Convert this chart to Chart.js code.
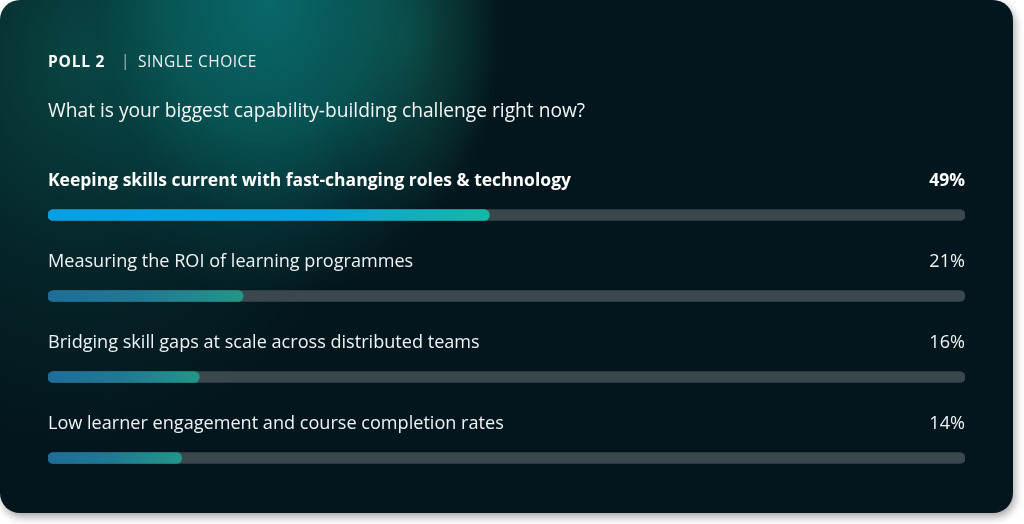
<!DOCTYPE html>
<html>
<head>
<meta charset="utf-8">
<script src="https://cdn.jsdelivr.net/npm/chart.js@4"></script>
<style>
  html, body { margin: 0; padding: 0; background: #ffffff; width: 1024px; height: 524px; overflow: hidden; }
  #card {
    position: absolute; left: 0; top: 0; width: 1013px; height: 513px;
    border-radius: 20px; overflow: hidden;
    box-shadow: 2px 4px 8px rgba(0,0,0,0.35);
    background:
      radial-gradient(ellipse 230px 300px at 270px 0px, rgba(10,112,112,0.9) 0%, rgba(9,98,98,0.75) 45%, rgba(7,70,72,0.4) 75%, rgba(4,24,30,0) 100%),
      radial-gradient(ellipse 90px 180px at 410px 40px, rgba(30,115,85,0.45) 0%, rgba(4,24,30,0) 100%),
      radial-gradient(ellipse 300px 380px at 80px 60px, rgba(10,80,74,0.8) 0%, rgba(6,50,52,0.5) 55%, rgba(4,24,30,0) 100%),
      #03161d;
  }
  #c { position: absolute; left: 0; top: 0; }
</style>
</head>
<body>
<div id="card"><canvas id="c" width="1013" height="513"></canvas></div>
<script>
const pollTag = "POLL 2";
const pollType = "SINGLE CHOICE";
const question = "What is your biggest capability-building challenge right now?";
const categories = [
  "Keeping skills current with fast-changing roles & technology",
  "Measuring the ROI of learning programmes",
  "Bridging skill gaps at scale across distributed teams",
  "Low learner engagement and course completion rates"
];
const values = [49, 21, 16, 14];

// Axis range: the track runs slightly past 0 and 100 (rounded end caps)
const axisMin = -1.2;
const axisMax = 103.1;

const FONT = "'Open Sans', 'Noto Sans', sans-serif";

function barGradient(context) {
  const chart = context.chart;
  const area = chart.chartArea;
  if (!area) return '#0aa0e0';
  const i = context.dataIndex;
  const xs = chart.scales.x;
  const x0 = xs.getPixelForValue(axisMin);
  const x1 = xs.getPixelForValue(values[i]);
  const g = chart.ctx.createLinearGradient(x0, 0, x1, 0);
  if (i === 0) {
    g.addColorStop(0, '#089fe2');
    g.addColorStop(0.6, '#09a3de');
    g.addColorStop(1, '#13b9a7');
  } else {
    g.addColorStop(0, '#1e6d98');
    g.addColorStop(0.5, '#207a93');
    g.addColorStop(1, '#229688');
  }
  return g;
}

const textPlugin = {
  id: 'pollText',
  afterDatasetsDraw(chart) {
    const ctx = chart.ctx;
    const area = chart.chartArea;
    const ys = chart.scales.y;
    ctx.save();
    ctx.textBaseline = 'middle';
    // header
    ctx.fillStyle = '#ffffff';
    ctx.font = `700 15.5px ${FONT}`;
    ctx.letterSpacing = '0.8px';
    ctx.textAlign = 'left';
    ctx.fillText(pollTag, area.left, 63);
    ctx.fillStyle = 'rgba(220,230,232,0.7)';
    ctx.font = `400 15.5px ${FONT}`;
    ctx.letterSpacing = '0px';
    ctx.fillText('|', area.left + 73, 62);
    ctx.fillStyle = '#eef3f4';
    ctx.font = `500 15.5px ${FONT}`;
    ctx.letterSpacing = '0.5px';
    ctx.fillText(pollType, area.left + 90, 63);
    ctx.letterSpacing = '0px';
    // question
    ctx.fillStyle = '#f4f7f8';
    ctx.font = `500 19.2px ${FONT}`;
    ctx.fillText(question, area.left, 112);
    // labels and percents
    categories.forEach((cat, i) => {
      const y = ys.getPixelForValue(i) - 34;
      const bold = i === 0;
      ctx.font = bold ? `700 17.5px ${FONT}` : `500 18.1px ${FONT}`;
      ctx.fillStyle = bold ? '#ffffff' : '#f0f4f5';
      ctx.textAlign = 'left';
      ctx.fillText(cat, area.left, y);
      ctx.textAlign = 'right';
      ctx.fillText(values[i] + '%', area.right, y);
    });
    ctx.restore();
  }
};

new Chart(document.getElementById('c'), {
  type: 'bar',
  data: {
    labels: categories,
    datasets: [
      {
        label: 'Share',
        data: values.map(v => [axisMin, v]),
        backgroundColor: barGradient,
        borderRadius: 6,
        borderSkipped: false,
        barThickness: 11,
        order: 0
      },
      {
        label: 'Track',
        data: values.map(() => [axisMin, axisMax]),
        backgroundColor: '#3a474d',
        borderRadius: 6,
        borderSkipped: false,
        barThickness: 11,
        order: 1
      }
    ]
  },
  options: {
    indexAxis: 'y',
    responsive: false,
    animation: false,
    devicePixelRatio: 1,
    grouped: false,
    layout: { padding: { left: 48, right: 48, top: 174.5, bottom: 14.5 } },
    scales: {
      x: { display: false, min: axisMin, max: axisMax },
      y: { display: false, grid: { display: false } }
    },
    plugins: {
      legend: { display: false },
      tooltip: { enabled: false }
    }
  },
  plugins: [textPlugin]
});
</script>
</body>
</html>
